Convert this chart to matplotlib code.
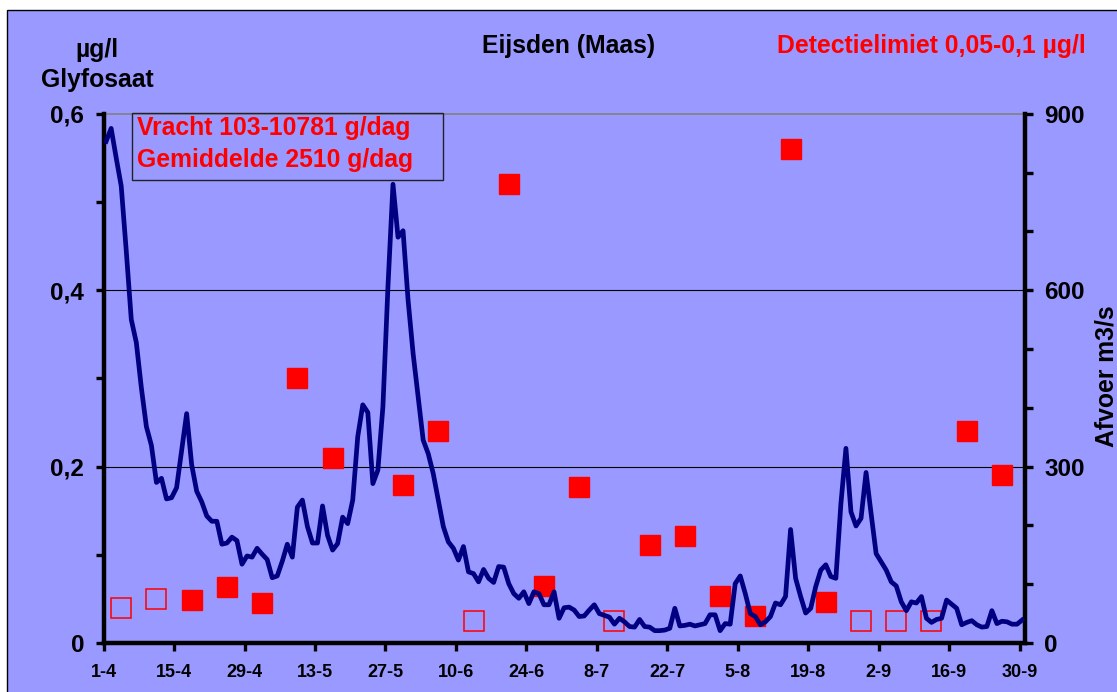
import matplotlib.pyplot as plt
from matplotlib.patches import Rectangle
from matplotlib.ticker import MultipleLocator, FixedLocator

plt.rcParams['font.family'] = ['Liberation Sans', 'DejaVu Sans']
plt.rcParams['font.weight'] = 'bold'

# daily flow Eijsden (m3/s), 1-4 .. 30-9
flow = [
    853, 875, 825, 777, 667, 550, 511, 434, 368, 336,
    273, 280, 245, 247, 264, 327, 390, 303, 258, 240,
    216, 207, 207, 168, 170, 180, 174, 134, 148, 146,
    161, 151, 142, 111, 114, 139, 168, 146, 231, 243,
    198, 170, 170, 233, 183, 158, 169, 214, 203, 243,
    351, 405, 392, 271, 294, 402, 606, 780, 690, 701,
    583, 492, 419, 345, 322, 288, 243, 198, 172, 161,
    141, 164, 121, 118, 104, 125, 110, 103, 130, 129,
    101, 84, 76, 87, 67, 87, 84, 65, 65, 87,
    42, 60, 61, 56, 45, 46, 56, 65, 50, 47,
    44, 32, 42, 36, 28, 27, 40, 28, 27, 21,
    21, 22, 25, 59, 29, 30, 32, 29, 31, 33,
    48, 48, 21, 33, 32, 101, 114, 84, 50, 45,
    31, 36, 45, 68, 65, 79, 193, 110, 79, 51,
    59, 96, 124, 133, 113, 110, 237, 331, 223, 199,
    212, 290, 220, 152, 138, 124, 104, 97, 70, 55,
    70, 68, 79, 42, 35, 40, 42, 73, 66, 59,
    31, 35, 38, 31, 27, 28, 55, 33, 37, 36,
    32, 32, 39,
]
days = list(range(len(flow)))

# glyphosate samples (day index from 1-4, ug/l), open = below detection limit
sample_day = [3, 10, 17, 24, 31, 38, 45, 59, 66, 73, 80, 87, 94,
              101, 108, 115, 122, 129, 136, 143, 150, 157, 164, 171, 178]
glyfosaat = [0.040, 0.050, 0.049, 0.064, 0.045, 0.30, 0.21, 0.179, 0.240,
             0.025, 0.52, 0.065, 0.177, 0.025, 0.111, 0.121, 0.053, 0.031,
             0.56, 0.047, 0.025, 0.025, 0.025, 0.24, 0.19]
below_limit = [True, True, False, False, False, False, False, False, False,
               True, False, False, False, True, False, False, False, False,
               False, False, True, True, True, False, False]

tick_days = [0, 14, 28, 42, 56, 70, 84, 98, 112, 126, 140, 154, 168, 182]
tick_labels = ['1-4', '15-4', '29-4', '13-5', '27-5', '10-6', '24-6', '8-7',
               '22-7', '5-8', '19-8', '2-9', '16-9', '30-9']

W, H = 1117, 692
bg = '#9999FF'
red = '#FF0000'
navy = '#000080'
fs = 17.8

fig = plt.figure(figsize=(W / 100, H / 100), dpi=100, facecolor='white')
fig.patches.append(Rectangle((7 / W, -0.1), 1.2, 1 - 10 / H + 0.1,
                             transform=fig.transFigure, facecolor=bg,
                             edgecolor='black', linewidth=1, zorder=-10))

ax = fig.add_axes([103.6 / W, 49 / H, 921 / W, 529.3 / H])
ax.set_facecolor('none')
ax.set_xlim(0, 183)
ax.set_ylim(0, 0.6)

for yv in (0.2, 0.4):
    ax.axhline(yv, color='black', lw=0.8, zorder=0)
ax.axhline(0.6, color='#808080', lw=1.2, zorder=0, clip_on=False)

open_x = [d + 0.5 for d, b in zip(sample_day, below_limit) if b]
open_y = [v for v, b in zip(glyfosaat, below_limit) if b]
fill_x = [d + 0.5 for d, b in zip(sample_day, below_limit) if not b]
fill_y = [v for v, b in zip(glyfosaat, below_limit) if not b]
ax.plot(open_x, open_y, 's', ms=14.5, mfc='none', mec=red, mew=1.1, zorder=3)
ax.plot(fill_x, fill_y, 's', ms=15, mfc=red, mec=red, mew=1, zorder=3)

for s in ('top', 'right'):
    ax.spines[s].set_visible(False)
for s in ('left', 'bottom'):
    ax.spines[s].set_linewidth(3.2)

ax.yaxis.set_major_locator(FixedLocator([0, 0.2, 0.4, 0.6]))
ax.yaxis.set_minor_locator(MultipleLocator(0.1))
ax.set_yticklabels(['0', '0,2', '0,4', '0,6'])
ax.tick_params(axis='y', which='both', direction='out', length=6, width=2.4,
               labelsize=17.5, pad=8)
ax.set_xticks(tick_days)
ax.set_xticklabels(tick_labels)
ax.tick_params(axis='x', direction='out', length=6, width=2.4,
               labelsize=13, pad=9)

ax2 = ax.twinx()
ax2.set_facecolor('none')
ax2.set_ylim(0, 900)
ax2.plot([d + 0.5 for d in days], flow, color=navy, lw=3.4,
         solid_joinstyle='round', zorder=4)
for s in ('top', 'left', 'bottom'):
    ax2.spines[s].set_visible(False)
ax2.spines['right'].set_linewidth(3.2)
ax2.yaxis.set_major_locator(FixedLocator([0, 300, 600, 900]))
ax2.yaxis.set_minor_locator(MultipleLocator(100))
ax2.tick_params(axis='y', which='both', direction='out', length=6, width=2.4,
                labelsize=17.5, pad=8)

# texts
fig.text(97 / W, 1 - 57 / H, 'µg/l', ha='center', va='baseline', fontsize=fs)
fig.text(97 / W, 1 - 87 / H, 'Glyfosaat', ha='center', va='baseline', fontsize=fs)
fig.text(569 / W, 1 - 53 / H, 'Eijsden (Maas)', ha='center', va='baseline',
         fontsize=fs)
fig.text(931 / W, 1 - 53 / H, 'Detectielimiet 0,05-0,1 µg/l', ha='center',
         va='baseline', fontsize=fs, color=red)
fig.text(1114 / W, 1 - 376 / H, 'Afvoer m3/s', rotation=90,
         rotation_mode='anchor', ha='center', va='baseline', fontsize=fs)

fig.patches.append(Rectangle((132 / W, 1 - 179.5 / H), 311 / W, 66.5 / H,
                             transform=fig.transFigure, facecolor='none',
                             edgecolor='#222222', linewidth=1, zorder=5))
fig.text(137 / W, 1 - 135 / H, 'Vracht 103-10781 g/dag', ha='left',
         va='baseline', fontsize=fs, color=red)
fig.text(137 / W, 1 - 167 / H, 'Gemiddelde 2510 g/dag', ha='left',
         va='baseline', fontsize=fs, color=red)

fig.savefig('out.png', dpi=100)
